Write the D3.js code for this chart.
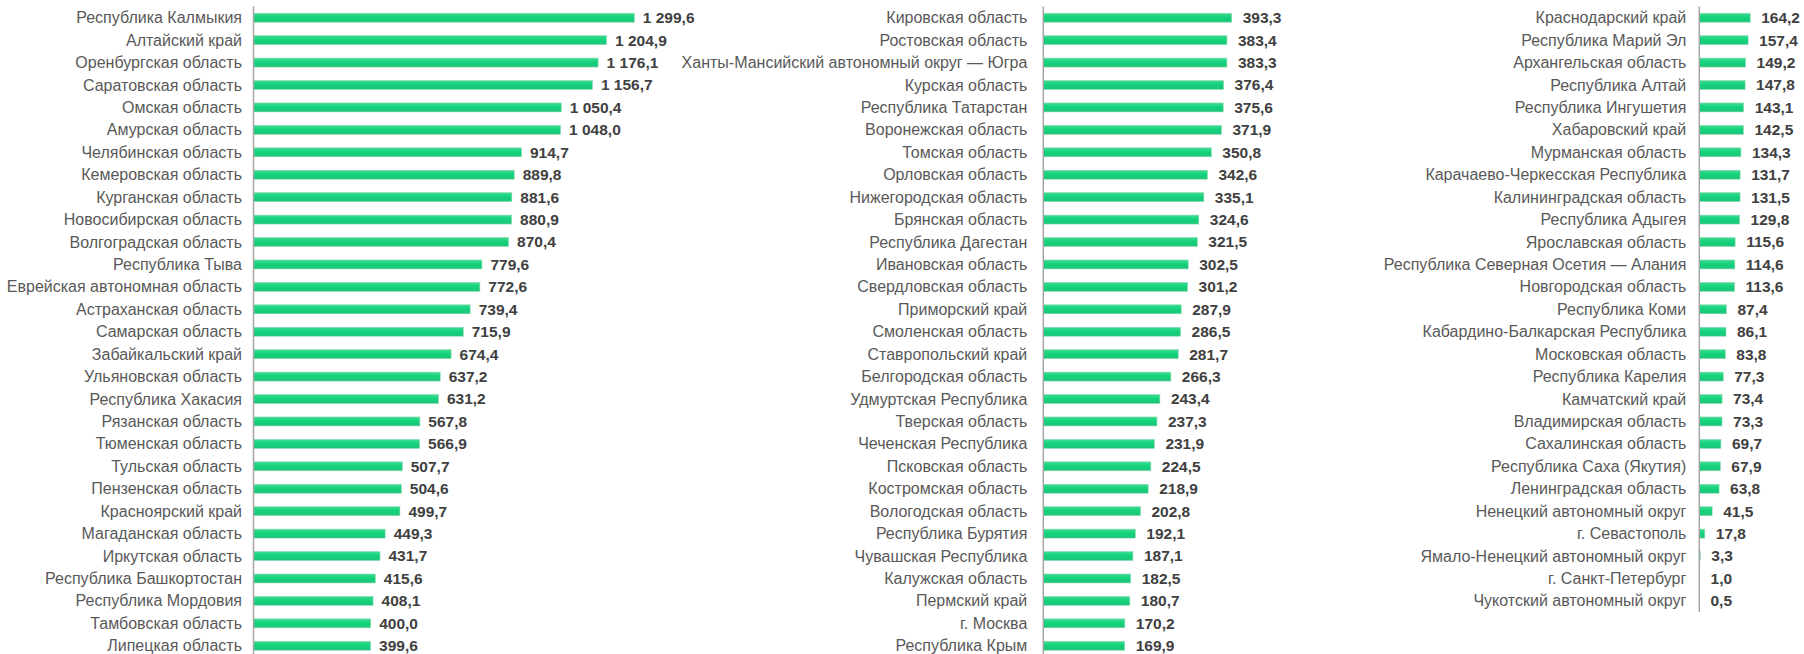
<!DOCTYPE html>
<html><head><meta charset="utf-8">
<script src="https://cdn.jsdelivr.net/npm/d3@7"></script>
<style>
html,body{margin:0;padding:0;background:#fff;}
svg{display:block;}
</style></head>
<body>
<svg id="chart" width="1804" height="654"></svg>
<script>
const regions1 = ["Республика Калмыкия","Алтайский край","Оренбургская область","Саратовская область","Омская область","Амурская область","Челябинская область","Кемеровская область","Курганская область","Новосибирская область","Волгоградская область","Республика Тыва","Еврейская автономная область","Астраханская область","Самарская область","Забайкальский край","Ульяновская область","Республика Хакасия","Рязанская область","Тюменская область","Тульская область","Пензенская область","Красноярский край","Магаданская область","Иркутская область","Республика Башкортостан","Республика Мордовия","Тамбовская область","Липецкая область"];
const values1 = [1299.6,1204.9,1176.1,1156.7,1050.4,1048.0,914.7,889.8,881.6,880.9,870.4,779.6,772.6,739.4,715.9,674.4,637.2,631.2,567.8,566.9,507.7,504.6,499.7,449.3,431.7,415.6,408.1,400.0,399.6];

const regions2 = ["Кировская область","Ростовская область","Ханты-Мансийский автономный округ — Югра","Курская область","Республика Татарстан","Воронежская область","Томская область","Орловская область","Нижегородская область","Брянская область","Республика Дагестан","Ивановская область","Свердловская область","Приморский край","Смоленская область","Ставропольский край","Белгородская область","Удмуртская Республика","Тверская область","Чеченская Республика","Псковская область","Костромская область","Вологодская область","Республика Бурятия","Чувашская Республика","Калужская область","Пермский край","г. Москва","Республика Крым"];
const values2 = [393.3,383.4,383.3,376.4,375.6,371.9,350.8,342.6,335.1,324.6,321.5,302.5,301.2,287.9,286.5,281.7,266.3,243.4,237.3,231.9,224.5,218.9,202.8,192.1,187.1,182.5,180.7,170.2,169.9];

const regions3 = ["Краснодарский край","Республика Марий Эл","Архангельская область","Республика Алтай","Республика Ингушетия","Хабаровский край","Мурманская область","Карачаево-Черкесская Республика","Калининградская область","Республика Адыгея","Ярославская область","Республика Северная Осетия — Алания","Новгородская область","Республика Коми","Кабардино-Балкарская Республика","Московская область","Республика Карелия","Камчатский край","Владимирская область","Сахалинская область","Республика Саха (Якутия)","Ленинградская область","Ненецкий автономный округ","г. Севастополь","Ямало-Ненецкий автономный округ","г. Санкт-Петербург","Чукотский автономный округ"];
const values3 = [164.2,157.4,149.2,147.8,143.1,142.5,134.3,131.7,131.5,129.8,115.6,114.6,113.6,87.4,86.1,83.8,77.3,73.4,73.3,69.7,67.9,63.8,41.5,17.8,3.3,1.0,0.5];

const svg = d3.select("#chart");
const defs = svg.append("defs");
const grad = defs.append("linearGradient").attr("id","barGrad").attr("x1",0).attr("y1",0).attr("x2",0).attr("y2",1);
grad.append("stop").attr("offset","0%").attr("stop-color","#3ddc93");
grad.append("stop").attr("offset","45%").attr("stop-color","#14d27b");
grad.append("stop").attr("offset","100%").attr("stop-color","#1cc57a");

const fmt = v => {
  const s = d3.format(",.1f")(v);
  return s.replace(/,/g," ").replace(".",",");
};

const STEP = 22.43, TOP = 6.5;
const panels = [
  {names: regions1, vals: values1, axisX: 253.5, k: 0.293, dmax: 1400, catGap: 11.5, valGap: 8.5},
  {names: regions2, vals: values2, axisX: 1043.3, k: 0.479, dmax: 450, catGap: 16, valGap: 11},
  {names: regions3, vals: values3, axisX: 1699.3, k: 0.31, dmax: 180, catGap: 13, valGap: 11}
];

panels.forEach(p => {
  const n = p.names.length;
  const y = d3.scaleBand().domain(p.names).range([TOP, TOP + n*STEP]).paddingInner(0.6).paddingOuter(0.3);
  const x = d3.scaleLinear().domain([0, p.dmax]).range([p.axisX, p.axisX + p.dmax*p.k]);
  const g = svg.append("g");
  const data = p.names.map((name,i)=>({name, v: p.vals[i]}));

  g.selectAll("rect").data(data).join("rect")
    .attr("x", x(0))
    .attr("y", d => y(d.name))
    .attr("width", d => Math.max(0, x(d.v) - x(0)))
    .attr("height", y.bandwidth())
    .attr("fill", "url(#barGrad)")
    .attr("stroke", "#8fd9b2")
    .attr("stroke-width", 0.6);

  g.selectAll("text.cat").data(data).join("text").attr("class","cat")
    .attr("x", x(0) - p.catGap)
    .attr("y", d => y(d.name) + y.bandwidth()/2)
    .attr("dy", "0.35em")
    .attr("text-anchor","end")
    .attr("font-family","'Liberation Sans', Arial, sans-serif")
    .attr("font-size", 16)
    .attr("fill","#595959")
    .text(d => d.name);

  g.selectAll("text.val").data(data).join("text").attr("class","val")
    .attr("x", d => x(d.v) + p.valGap)
    .attr("y", d => y(d.name) + y.bandwidth()/2)
    .attr("dy", "0.35em")
    .attr("font-family","'Liberation Sans', Arial, sans-serif")
    .attr("font-size", 15.5)
    .attr("font-weight","bold")
    .attr("fill","#404040")
    .text(d => fmt(d.v));

  g.append("line")
    .attr("x1", x(0)).attr("x2", x(0))
    .attr("y1", y.range()[0]).attr("y2", y.range()[1])
    .attr("stroke","#a6a6a6").attr("stroke-width",1.5);
});
</script>
</body></html>
